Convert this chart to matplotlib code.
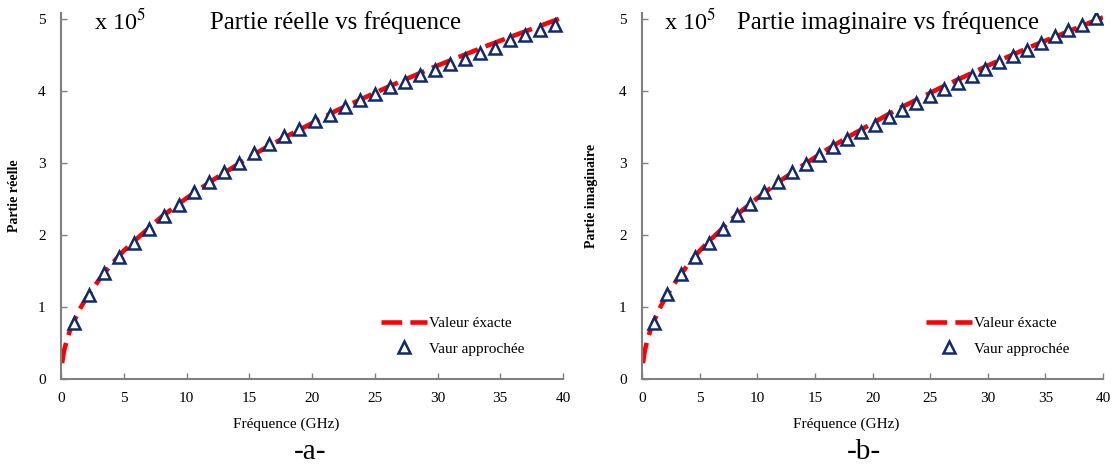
import matplotlib.pyplot as plt
import numpy as np

plt.rcParams['font.family'] = ['Liberation Serif', 'DejaVu Serif']
plt.rcParams['mathtext.fontset'] = 'stix'

# exact curve, in units of 1e5
f_exact = [0.08, 0.25, 0.5, 0.75, 1, 1.5, 2, 3, 4, 5, 6, 8, 10, 12, 14, 16,
           18, 20, 22, 24, 26, 28, 30, 32, 34, 36, 38, 40]
y_exact = [0.22, 0.40, 0.56, 0.69, 0.79, 0.97, 1.12, 1.37, 1.59, 1.78, 1.94,
           2.25, 2.51, 2.75, 2.97, 3.18, 3.37, 3.55, 3.73, 3.89, 4.05, 4.20,
           4.35, 4.49, 4.63, 4.76, 4.89, 5.02]

# approximated points
f_approx = [1.0, 2.2, 3.4, 4.6, 5.8, 7.0, 8.2, 9.4, 10.6, 11.8, 13.0, 14.2,
            15.4, 16.6, 17.8, 19.0, 20.2, 21.4, 22.6, 23.8, 25.0, 26.2, 27.4,
            28.6, 29.8, 31.0, 32.2, 33.4, 34.6, 35.8, 37.0, 38.2, 39.4]
real_approx = [0.78, 1.16, 1.47, 1.69, 1.89, 2.08, 2.26, 2.42, 2.59, 2.73,
               2.87, 3.00, 3.13, 3.26, 3.37, 3.47, 3.58, 3.67, 3.78, 3.87,
               3.95, 4.05, 4.12, 4.22, 4.29, 4.37, 4.44, 4.53, 4.60, 4.70,
               4.78, 4.85, 4.92]
imag_approx = [0.78, 1.18, 1.46, 1.69, 1.89, 2.08, 2.27, 2.43, 2.59, 2.73,
               2.87, 2.99, 3.11, 3.22, 3.33, 3.43, 3.53, 3.64, 3.73, 3.83,
               3.93, 4.02, 4.11, 4.21, 4.30, 4.40, 4.48, 4.57, 4.67, 4.76,
               4.84, 4.92, 5.01]

x_ticks = [0, 5, 10, 15, 20, 25, 30, 35, 40]
y_ticks = [0, 1, 2, 3, 4, 5]

W, H = 1118, 467
fig = plt.figure(figsize=(W / 100, H / 100), dpi=100)


def px(x, y):
    return x / W, 1 - y / H


def make_panel(x0, x1, y_approx, title, ylabel, tag, title_x, mult_x,
               ylab_x, xlab_x, tag_x, leg_x):
    ax = fig.add_axes([x0 / W, 1 - 379 / H, (x1 - x0) / W, (379 - 13) / H])
    ax.plot(f_exact, y_exact, color='red', lw=3.3, dashes=(4.5, 1.8),
            label='Valeur éxacte', zorder=2)
    ax.plot(f_approx, y_approx, ls='none', marker='^', ms=8, mew=1.8,
            mfc='white', mec='#0f2a6e', label='Vaur approchée', zorder=3)
    ax.set_xlim(0, 40)
    ax.set_ylim(0, 5.08)
    ax.set_xticks(x_ticks)
    ax.set_yticks(y_ticks)
    for s in ['top', 'right']:
        ax.spines[s].set_visible(False)
    for s in ['left', 'bottom']:
        ax.spines[s].set_color('#808080')
        ax.spines[s].set_linewidth(1.5)
    ax.tick_params(direction='in', length=4, width=1, color='#808080',
                   labelsize=11)
    ax.tick_params(axis='x', pad=9)
    ax.tick_params(axis='y', pad=11)

    fig.text(*px(title_x, 23), title, fontsize=17.8, ha='center', va='center')
    fig.text(*px(mult_x, 22), r'x 10$^5$', fontsize=17.5, ha='left',
             va='center')
    fig.text(*px(ylab_x, 196), ylabel, fontsize=10, fontweight='bold',
             rotation=90, ha='center', va='center')
    fig.text(*px(xlab_x, 424), 'Fréquence (GHz)', fontsize=11,
             ha='center', va='center')
    fig.text(*px(tag_x, 452), tag, fontsize=21, ha='center', va='center')

    ax.legend(loc='center left', bbox_to_anchor=px(leg_x, 336),
              bbox_transform=fig.transFigure, frameon=False, fontsize=11,
              handlelength=3.0, handletextpad=0.15, labelspacing=0.8,
              borderpad=0, borderaxespad=0)
    return ax


make_panel(61, 563, real_approx, 'Partie réelle vs fréquence',
           'Partie réelle', '-a-', 335, 94, 15, 286, 310, 381)
make_panel(642, 1103, imag_approx, 'Partie imaginaire vs fréquence',
           'Partie imaginaire', '-b-', 888, 664, 592, 846, 864, 926)

fig.savefig('out.png', dpi=100)
